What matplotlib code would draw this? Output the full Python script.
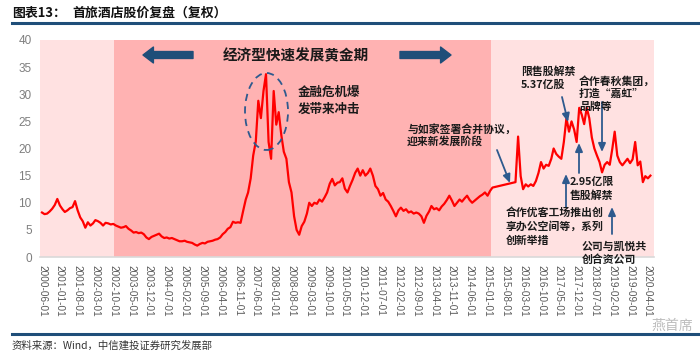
import matplotlib
matplotlib.use("Agg")
import matplotlib.pyplot as plt
import matplotlib.dates as mdates
from matplotlib.patches import Ellipse
import numpy as np
import pandas as pd

plt.rcParams['font.family'] = ['Noto Sans CJK SC', 'DejaVu Sans']

# ---------------- data ----------------
start_month = "2000-06-01"
# monthly adjusted close (None = trading suspended)
prices = [
    8.2, 7.9, 8.0, 8.4, 8.9, 9.6, 10.7,                      # 2000-06 .. 2000-12
    9.5, 8.8, 8.3, 8.6, 9.0, 9.2, 10.3, 8.6, 7.3, 6.6, 5.4, 6.4,   # 2001
    5.8, 6.2, 6.8, 6.6, 6.3, 5.8, 6.3, 6.2, 6.0, 6.1, 5.8, 5.6,    # 2002
    5.4, 5.5, 5.7, 5.2, 4.9, 4.5, 4.6, 4.4, 4.5, 4.2, 3.6, 3.3,    # 2003
    3.7, 3.9, 4.1, 4.3, 3.8, 3.5, 3.6, 3.4, 3.5, 3.3, 3.1, 2.9,    # 2004
    2.9, 3.0, 2.8, 2.7, 2.6, 2.3, 2.1, 2.4, 2.6, 2.5, 2.8, 2.9,    # 2005
    3.0, 3.2, 3.3, 3.6, 4.2, 4.6, 5.2, 5.5, 6.5, 6.3, 6.4, 6.3,    # 2006
    8.5, 10.6, 11.9, 14.5, 18.7, 21.3, 28.8, 25.6, 30.6, 33.7, 21.2, 18.1,  # 2007
    30.6, 24.4, 26.7, 22.5, 19.4, 18.1, 13.8, 11.9, 7.5, 5.0, 4.1, 5.7,     # 2008
    6.5, 8.0, 10.0, 9.4, 10.0, 9.8, 10.6, 10.2, 11.0, 11.9, 13.5, 14.4,     # 2009
    13.2, 13.7, 13.8, 14.5, 12.6, 11.9, 13.1, 14.2, 15.5, 16.3, 15.0, 16.0, # 2010
    15.0, 15.5, 16.3, 15.0, 13.1, 12.5, 11.3, 11.8, 10.6, 10.2, 9.4, 8.5,   # 2011
    7.5, 8.6, 9.1, 8.5, 8.8, 8.2, 8.4, 8.0, 8.2, 8.0, 7.5, 6.3,             # 2012
    7.6, 8.4, 9.4, 8.8, 9.0, 8.6, 9.3, 9.8, 10.5, 11.3, 10.4, 9.4,          # 2013
    10.0, 10.6, 10.2, 10.8, 11.3, 10.5, 10.0, 10.4, 10.8, 11.2, 11.5, 11.9, # 2014
    11.3, 12.2, 12.8, None, None, None, None, None, None, None, None, 13.8, # 2015
    22.2, 14.9, 12.5, 13.4, 13.0, 13.4, 13.1, 14.0, 15.5, 17.5, 16.3, 17.0, # 2016
    16.8, 18.1, 20.0, 19.0, 18.5, 18.1, 21.2, 25.6, 23.1, 25.0, 23.5, 21.2, # 2017
    27.5, 26.2, 24.5, 27.5, 25.6, 22.0, 20.0, 18.7, 17.5, 15.6, 17.0, 17.5, # 2018
    17.0, 20.0, 23.1, 18.7, 17.5, 16.9, 17.5, 18.1, 17.3, 18.0, 21.2, 16.9, # 2019
    17.6, 13.8, 14.9, 14.5, 15.0,                                           # 2020-01 .. 2020-05
]
tick_start = "2000-06-01"
tick_end = "2020-04-01"
yticks = [0, 5, 10, 15, 20, 25, 30, 35, 40]

title_label = "图表13："
title_text = "首旅酒店股价复盘（复权）"
source_text = "资料来源：Wind，中信建投证券研究发展部"
period_text = "经济型快速发展黄金期"
crisis_text = ["金融危机爆", "发带来冲击"]
merge_text = ["与如家签署合并协议，", "迎来新发展阶段"]
unlock1_text = ["限售股解禁", "5.37亿股"]
chunqiu_text = ["合作春秋集团，", "打造“嘉虹”", "品牌等"]
unlock2_text = ["2.95亿限", "售股解禁"]
ucommune_text = ["合作优客工场推出创", "享办公空间等，系列", "创新举措"]
hyatt_text = ["公司与凯悦共", "创合资公司"]
phase_bounds = ["2002-10-15", "2015-02-10"]

# ---------------- figure ----------------
W, H = 700, 356
fig = plt.figure(figsize=(W / 100, H / 100), dpi=100)

def fx(x):
    return x / W

def fy(y):
    return 1 - y / H

ax = fig.add_axes([fx(40), fy(257), (654 - 40) / W, (257 - 40) / H])

dates = pd.date_range(start_month, periods=len(prices), freq="MS")
s = pd.Series([np.nan if v is None else v for v in prices], index=dates).dropna()

x0 = pd.Timestamp(start_month) - pd.Timedelta(days=24)
x1 = pd.Timestamp(start_month) + pd.DateOffset(months=240) + pd.Timedelta(days=12)
ax.set_xlim(x0, x1)
ax.set_ylim(0, 40)

light = "#FFE1E1"
dark = "#FFB2B2"
ax.axvspan(x0, pd.Timestamp(phase_bounds[0]), color=light, lw=0, zorder=0)
ax.axvspan(pd.Timestamp(phase_bounds[0]), pd.Timestamp(phase_bounds[1]), color=dark, lw=0, zorder=0)
ax.axvspan(pd.Timestamp(phase_bounds[1]), x1, color=light, lw=0, zorder=0)

ax.plot(s.index, s.values, color="#FF0000", lw=1.6, zorder=3)

ticks = pd.date_range(tick_start, tick_end, freq="7MS")
ax.set_xticks(ticks)
ax.set_xticklabels([t.strftime("%Y-%m-%d") for t in ticks], rotation=270,
                   fontsize=7.2, color="#595959", family=["Liberation Sans", "DejaVu Sans"])
ax.set_yticks(yticks)
ax.set_yticklabels([str(v) for v in yticks], fontsize=8.5, color="#7F7F7F",
                   family=["Liberation Sans", "DejaVu Sans"])
ax.tick_params(axis="both", length=0)
ax.tick_params(axis="x", pad=6)
ax.tick_params(axis="y", pad=6)
for sp in ["top", "right", "left"]:
    ax.spines[sp].set_visible(False)
ax.spines["bottom"].set_color("#D9D9D9")
ax.spines["bottom"].set_linewidth(1.2)

# ---------------- header / footer ----------------
fig.text(fx(12), fy(13), title_label, fontsize=9.3, fontweight="bold", ha="left", va="center", color="#111111")
fig.text(fx(72), fy(13), title_text, fontsize=9.3, fontweight="bold", ha="left", va="center", color="#111111")
fig.add_artist(plt.Line2D([fx(12), fx(700)], [fy(23), fy(23)], color="#1F4E79", lw=2.2))
fig.add_artist(plt.Line2D([fx(12), fx(700)], [fy(334), fy(334)], color="#1F4E79", lw=2.2))
fig.text(fx(12), fy(346), source_text, fontsize=7.5, ha="left", va="center", color="#333333")
fig.text(fx(672), fy(326), "燕首席", fontsize=10, ha="center", va="center", color="#BDBDBD")

# ---------------- annotations ----------------
navy = "#1F4E79"
arrow_blue = "#2E5A8E"
txt_color = "#1A1A1A"

blk = dict(arrowstyle="simple,head_length=0.75,head_width=1.15,tail_width=0.5",
           color=navy, mutation_scale=10, shrinkA=0, shrinkB=0)
ax.annotate("", xy=(fx(143), fy(55)), xytext=(fx(193), fy(55)),
            xycoords="figure fraction", textcoords="figure fraction", arrowprops=blk)
ax.annotate("", xy=(fx(451), fy(55)), xytext=(fx(400), fy(55)),
            xycoords="figure fraction", textcoords="figure fraction", arrowprops=blk)
fig.text(fx(296), fy(55), period_text, fontsize=10.5, fontweight="bold",
         ha="center", va="center", color=txt_color)

ell = Ellipse((fx(266.5), fy(111.5)), width=43 / W, height=77 / H, transform=fig.transFigure,
              fill=False, ec=arrow_blue, lw=1.3, ls=(0, (4, 3)), zorder=5)
fig.add_artist(ell)

def block(lines, x, y, step, size):
    for i, line in enumerate(lines):
        fig.text(fx(x), fy(y + i * step), line, fontsize=size, fontweight="bold",
                 ha="left", va="center", color=txt_color)

block(crisis_text, 298, 92, 17, 9)
block(merge_text, 407, 129, 12.5, 7.8)
block(unlock1_text, 521, 71.5, 13, 7.8)
block(chunqiu_text, 579, 81, 13, 7.8)
block(unlock2_text, 570, 182, 13.5, 7.8)
block(ucommune_text, 506, 213, 13.7, 7.8)
block(hyatt_text, 582, 247, 12.5, 7.8)

thin = dict(arrowstyle="-|>,head_length=0.5,head_width=0.22", color=arrow_blue,
            lw=1.3, shrinkA=0, shrinkB=0)

def arrow(x_from, y_from, x_to, y_to):
    ax.annotate("", xy=(fx(x_to), fy(y_to)), xytext=(fx(x_from), fy(y_from)),
                xycoords="figure fraction", textcoords="figure fraction", arrowprops=thin)

arrow(497, 150, 510, 183)
arrow(562, 97, 568, 122)
arrow(602, 102, 602, 152)
arrow(579, 173, 579, 143)
arrow(566, 207, 566, 174)
arrow(612, 234, 612, 207)

fig.savefig("out.png", dpi=100)
